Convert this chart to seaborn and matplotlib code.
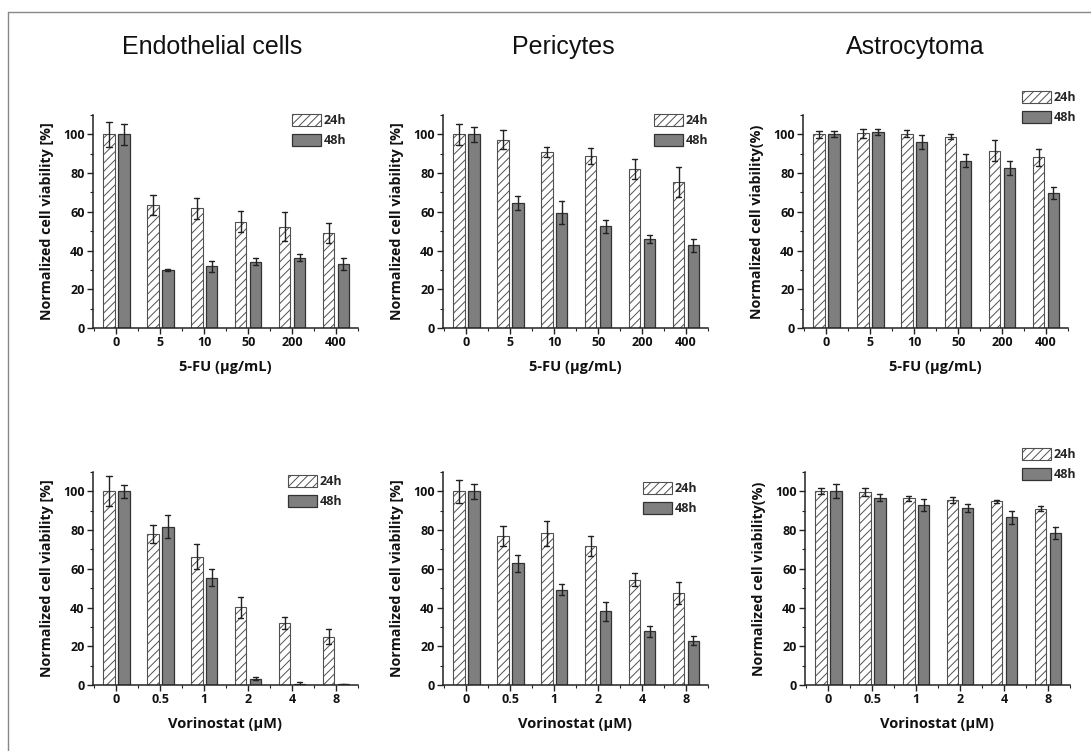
import numpy as np
import pandas as pd
import matplotlib
matplotlib.use("Agg")
import matplotlib.pyplot as plt
import seaborn as sns
from matplotlib.ticker import MultipleLocator, FixedLocator
from matplotlib.lines import Line2D

# ---------------- data ----------------
fu_doses = ["0", "5", "10", "50", "200", "400"]
vor_doses = ["0", "0.5", "1", "2", "4", "8"]
times = ["24h", "48h"]

endo_fu_24 = [100, 63.5, 61.8, 54.8, 52.2, 49.2]
endo_fu_24_err = [6.3, 5.0, 5.5, 5.4, 7.5, 5.2]
endo_fu_48 = [100, 30.0, 31.8, 34.3, 36.4, 33.2]
endo_fu_48_err = [5.3, 0.5, 3.0, 1.8, 1.7, 3.2]

peri_fu_24 = [100, 97.3, 90.9, 88.7, 82.1, 75.4]
peri_fu_24_err = [5.5, 5.0, 2.5, 4.0, 5.0, 7.5]
peri_fu_48 = [100, 64.4, 59.6, 52.6, 45.8, 42.8]
peri_fu_48_err = [4.0, 3.6, 6.0, 3.4, 2.0, 3.3]

astro_fu_24 = [100, 100.5, 100.2, 98.8, 91.6, 88.1]
astro_fu_24_err = [1.7, 2.3, 1.8, 1.2, 5.3, 4.5]
astro_fu_48 = [100, 101.2, 96.1, 86.4, 82.8, 69.5]
astro_fu_48_err = [1.5, 1.7, 3.5, 3.4, 3.6, 3.1]

endo_vor_24 = [100, 78.0, 66.3, 40.1, 32.0, 25.0]
endo_vor_24_err = [7.7, 4.8, 6.5, 5.6, 3.3, 4.0]
endo_vor_48 = [100, 81.8, 55.5, 3.2, 0.5, 0.3]
endo_vor_48_err = [3.3, 6.0, 4.3, 0.7, 1.0, 0.3]

peri_vor_24 = [100, 76.9, 78.3, 71.8, 54.4, 47.5]
peri_vor_24_err = [6.0, 5.2, 6.4, 5.2, 3.4, 5.5]
peri_vor_48 = [100, 62.8, 49.2, 38.0, 27.7, 22.9]
peri_vor_48_err = [3.8, 4.5, 2.8, 4.9, 2.8, 2.4]

astro_vor_24 = [100, 99.6, 96.4, 95.5, 94.8, 91.0]
astro_vor_24_err = [1.5, 2.0, 1.2, 1.4, 0.9, 1.2]
astro_vor_48 = [100, 96.8, 93.2, 91.3, 86.7, 78.3]
astro_vor_48_err = [3.6, 2.0, 3.1, 2.2, 3.4, 3.1]

titles = ["Endothelial cells", "Pericytes", "Astrocytoma"]
xlabel_fu = "5-FU (\u03bcg/mL)"
xlabel_vor = "Vorinostat (\u03bcM)"
ylabel_a = "Normalized cell viability [%]"
ylabel_b = "Normalized cell viability(%)"


def long_table(doses, m24, e24, m48, e48):
    rows = []
    for t, m, e in (("24h", m24, e24), ("48h", m48, e48)):
        for d, mi, ei in zip(doses, m, e):
            rows.append({"dose": d, "time": t, "value": mi - ei})
            rows.append({"dose": d, "time": t, "value": mi + ei})
    return pd.DataFrame(rows)


# ---------------- style ----------------
W, H = 1091, 751
sns.set_theme(style="ticks")
plt.rcParams['font.family'] = ['Open Sans', 'DejaVu Sans']
plt.rcParams['hatch.linewidth'] = 0.7
plt.rcParams['axes.linewidth'] = 1.1

fig = plt.figure(figsize=(W / 100, H / 100), dpi=100)
fig.patch.set_facecolor("white")

AX_W, AX_H = 265, 213

panels = [
    # left_px, zero_px, data, xlabel, ylabel, legend (x_px, y_px)
    (93, 328, long_table(fu_doses, endo_fu_24, endo_fu_24_err, endo_fu_48, endo_fu_48_err),
     fu_doses, xlabel_fu, ylabel_a, (292, 114)),
    (443, 328, long_table(fu_doses, peri_fu_24, peri_fu_24_err, peri_fu_48, peri_fu_48_err),
     fu_doses, xlabel_fu, ylabel_a, (654, 114)),
    (803, 328, long_table(fu_doses, astro_fu_24, astro_fu_24_err, astro_fu_48, astro_fu_48_err),
     fu_doses, xlabel_fu, ylabel_b, (1022, 91)),
    (93, 685, long_table(vor_doses, endo_vor_24, endo_vor_24_err, endo_vor_48, endo_vor_48_err),
     vor_doses, xlabel_vor, ylabel_a, (288, 475)),
    (443, 685, long_table(vor_doses, peri_vor_24, peri_vor_24_err, peri_vor_48, peri_vor_48_err),
     vor_doses, xlabel_vor, ylabel_a, (643, 482)),
    (805, 685, long_table(vor_doses, astro_vor_24, astro_vor_24_err, astro_vor_48, astro_vor_48_err),
     vor_doses, xlabel_vor, ylabel_b, (1022, 448)),
]

palette = {"24h": "white", "48h": "#7f7f7f"}

for left, zero, df, doses, xl, yl, (lx, ly) in panels:
    ax = fig.add_axes([left / W, 1 - zero / H, AX_W / W, AX_H / H])
    sns.barplot(data=df, x="dose", y="value", hue="time", order=doses,
                hue_order=times, palette=palette, saturation=1,
                estimator="mean", errorbar=lambda v: (v.min(), v.max()),
                width=0.68, gap=0.22, capsize=0.25,
                err_kws={"linewidth": 1.0, "color": "#222222"},
                legend=False, ax=ax, zorder=2)
    for p in ax.containers[0]:
        p.set_hatch("////")
        p.set_edgecolor("#505050")
        p.set_linewidth(0.8)
    for p in ax.containers[1]:
        p.set_edgecolor("#333333")
        p.set_linewidth(0.9)

    ax.set_ylim(0, 110)
    ax.set_xlim(-0.53, 5.5)
    ax.yaxis.set_major_locator(MultipleLocator(20))
    ax.yaxis.set_minor_locator(MultipleLocator(10))
    ax.xaxis.set_minor_locator(FixedLocator([i + 0.5 for i in range(-1, 6)]))
    sns.despine(ax=ax)
    for s in ("left", "bottom"):
        ax.spines[s].set_color("#222222")
    ax.tick_params(which="major", direction="out", length=4, width=1.0,
                   color="#222222", labelsize=9, pad=2, labelcolor="#111111")
    ax.tick_params(which="minor", direction="out", length=2, width=0.8,
                   color="#222222")
    for lab in ax.get_xticklabels() + ax.get_yticklabels():
        lab.set_fontweight("bold")

    ax.set_xlabel(xl, fontsize=10.5, fontweight="bold", color="#111111")
    ax.set_ylabel(yl, fontsize=10.3, fontweight="bold", color="#111111")
    ax.xaxis.set_label_coords(0.5, -32 / AX_H)
    ax.yaxis.set_label_coords(-39 / AX_W, 0.5)

    handles = [ax.containers[0][0], ax.containers[1][0]]
    ax.legend(handles=handles, labels=times, loc="upper left",
              bbox_to_anchor=(lx / W, 1 - ly / H), bbox_transform=fig.transFigure,
              frameon=False, borderpad=0, borderaxespad=0,
              handlelength=2.3, handleheight=1.15, handletextpad=0.25,
              labelspacing=0.5, prop={"weight": "bold", "size": 9})

# titles
for txt, cx in zip(titles, [212, 563, 915]):
    fig.text(cx / W, 1 - 47 / H, txt, ha="center", va="center",
             fontsize=18, family=["Liberation Sans", "DejaVu Sans"], color="#111111")

# outer frame (top and left edges)
fig.add_artist(Line2D([8 / W, 1.0], [1 - 12 / H, 1 - 12 / H], color="#888888", lw=1.0))
fig.add_artist(Line2D([8 / W, 8 / W], [0.0, 1 - 12 / H], color="#888888", lw=1.0))

fig.savefig("out.png", dpi=100)
